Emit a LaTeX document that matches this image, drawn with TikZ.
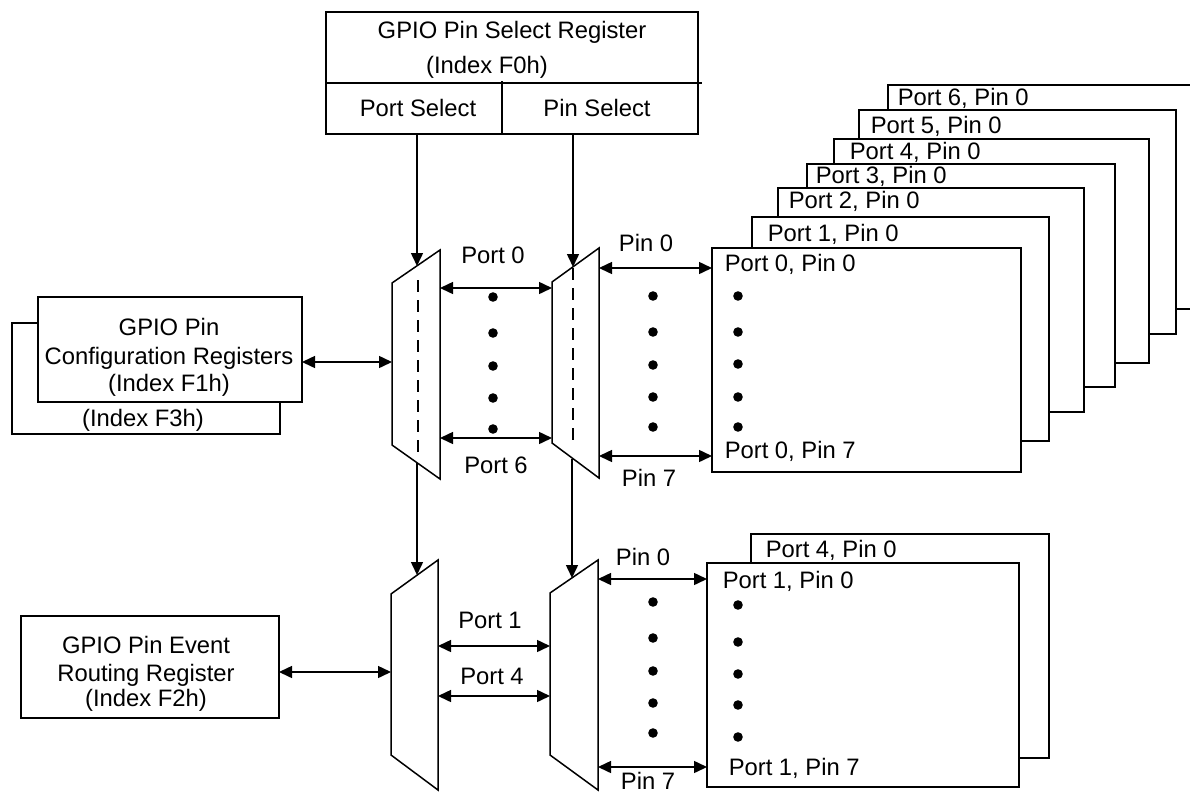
\documentclass[tikz,border=0pt]{standalone}
\usepackage{fontspec}
\setmainfont{Liberation Sans}
\usetikzlibrary{arrows.meta}
\begin{document}
\begin{tikzpicture}[x=0.5pt,y=-0.5pt, line width=0.75pt,
  box/.style={draw, fill=white, inner sep=0pt, outer sep=0pt, anchor=north west},
  lbl/.style={inner sep=0pt, font=\fontsize{11.9}{13.8}\selectfont, text height=8.6pt, text depth=0pt},
  llbl/.style={lbl, anchor=west},
  conn/.style={-{Triangle[length=6.5pt,width=6pt]}},
  bus/.style={{Triangle[length=6.5pt,width=6pt]}-{Triangle[length=6.5pt,width=6pt]}},
  dotm/.style={circle, fill, inner sep=0pt, minimum size=4.8pt},
  mux/.style={draw, fill=white, line join=miter},
  sel/.style={dash pattern=on 6pt off 4pt}]
\useasboundingbox (0,0) rectangle (1190,793);
\clip (0,0) rectangle (1190,793);

% ---- top register
\node[box, minimum width=186pt, minimum height=61pt] (psr) at (326,12) {};
\coordinate (divL) at (326,83);
\coordinate (divR) at (702,83);
\coordinate (divT) at (502,81);
\coordinate (divB) at (502,134);
\draw (divL) -- (divR);
\draw (divT) -- (divB);
\node[lbl] (psr1) at (512,30) {GPIO Pin Select Register};
\node[lbl] (psr2) at (487,65) {(Index F0h)};
\node[lbl] (portsel) at (418,108) {Port Select};
\node[lbl] (pinsel) at (597,108) {Pin Select};

% ---- configuration registers
\node[box, minimum width=134pt, minimum height=55.5pt] (cfgb) at (12,323) {};
\node[box, minimum width=132pt, minimum height=52.5pt] (cfg) at (38,297) {};
\node[lbl] (cfg1) at (169,327) {GPIO Pin};
\node[lbl] (cfg2) at (169,356) {Configuration Registers};
\node[lbl] (cfg3) at (169,383) {(Index F1h)};
\node[lbl] (cfg4) at (143,418) {(Index F3h)};

% ---- event routing register
\node[box, minimum width=129pt, minimum height=51pt] (evt) at (21,616) {};
\node[lbl] (evt1) at (146,645) {GPIO Pin Event};
\node[lbl] (evt2) at (146,673) {Routing Register};
\node[lbl] (evt3) at (146,698) {(Index F2h)};

% ---- muxes
\coordinate (m1a) at (392,283); \coordinate (m1b) at (440,250);
\coordinate (m1c) at (440,479); \coordinate (m1d) at (392,445);
\draw[mux] (m1a) -- (m1b) -- (m1c) -- (m1d) -- cycle;
\coordinate (m1t) at (418,280); \coordinate (m1u) at (418,457);
\draw[sel] (m1t) -- (m1u);

\coordinate (m2a) at (552,282); \coordinate (m2b) at (599,248);
\coordinate (m2c) at (599,478); \coordinate (m2d) at (552,443);
\draw[mux] (m2a) -- (m2b) -- (m2c) -- (m2d) -- cycle;
\coordinate (m2t) at (573,268); \coordinate (m2u) at (573,443);
\draw[sel] (m2t) -- (m2u);

\coordinate (m3a) at (391,594); \coordinate (m3b) at (438,560);
\coordinate (m3c) at (438,790); \coordinate (m3d) at (391,755);
\draw[mux] (m3a) -- (m3b) -- (m3c) -- (m3d) -- cycle;

\coordinate (m4a) at (550,593); \coordinate (m4b) at (598,560);
\coordinate (m4c) at (598,790); \coordinate (m4d) at (550,755);
\draw[mux] (m4a) -- (m4b) -- (m4c) -- (m4d) -- cycle;

% ---- stacked pin boxes (top)
\node[box, minimum width=161pt, minimum height=112pt] (p6) at (888,85) {};
\node[box, minimum width=158.5pt, minimum height=112pt] (p5) at (859,110) {};
\node[box, minimum width=157.5pt, minimum height=112pt] (p4) at (834,139) {};
\node[box, minimum width=154pt, minimum height=111.5pt] (p3) at (807,164) {};
\node[box, minimum width=153pt, minimum height=112pt] (p2) at (778,188) {};
\node[box, minimum width=148.5pt, minimum height=112pt] (p1) at (752,217) {};
\node[box, minimum width=154.5pt, minimum height=112pt] (p0) at (712,248) {};
\node[llbl] (p6l) at (897,97) {Port 6, Pin 0};
\node[llbl] (p5l) at (870,125) {Port 5, Pin 0};
\node[llbl] (p4l) at (849,151) {Port 4, Pin 0};
\node[llbl] (p3l) at (815,175) {Port 3, Pin 0};
\node[llbl] (p2l) at (788,200) {Port 2, Pin 0};
\node[llbl] (p1l) at (767,233) {Port 1, Pin 0};
\node[llbl] (p0l) at (724,263) {Port 0, Pin 0};
\node[llbl] (p0m) at (724,450) {Port 0, Pin 7};
\foreach \y [count=\i] in {296,332,364,397,427} \node[dotm] (pd\i) at (738,\y) {};

% ---- stacked pin boxes (bottom)
\node[box, minimum width=149pt, minimum height=112pt] (q4) at (751,534) {};
\node[box, minimum width=156pt, minimum height=112pt] (q1) at (707,563) {};
\node[llbl] (q4l) at (765,549) {Port 4, Pin 0};
\node[llbl] (q1l) at (722,580) {Port 1, Pin 0};
\node[llbl] (q1m) at (728,767) {Port 1, Pin 7};
\foreach \y [count=\i] in {605,642,674,705,737} \node[dotm] (qd\i) at (738,\y) {};

% ---- select arrows
\coordinate (ps0) at (417,134); \coordinate (ps1) at (417,266);
\coordinate (pn0) at (573,134); \coordinate (pn1) at (573,267);
\draw[conn] (ps0) -- (ps1);
\draw[conn] (pn0) -- (pn1);
\coordinate (d1a) at (417,463); \coordinate (d1b) at (417,575);
\coordinate (d2a) at (572,459); \coordinate (d2b) at (572,578);
\draw[conn] (d1a) -- (d1b);
\draw[conn] (d2a) -- (d2b);

% ---- buses (top)
\draw[bus] (cfg.east |- 0,362) -- (392,362);
\draw[bus] (440,288) -- (552,288);
\draw[bus] (440,438) -- (552,438);
\draw[bus] (599,268) -- (p0.west |- 0,268);
\draw[bus] (599,456) -- (p0.west |- 0,456);
\node[lbl] (lp0) at (493,255) {Port 0};
\node[lbl] (lp6) at (496,465) {Port 6};
\node[lbl] (lpin0) at (646,243) {Pin 0};
\node[lbl] (lpin7) at (649,478) {Pin 7};
\foreach \y [count=\i] in {297,333,366,398,429} \node[dotm] (ad\i) at (493,\y) {};
\foreach \y [count=\i] in {296,332,365,397,427} \node[dotm] (bd\i) at (653,\y) {};

% ---- buses (bottom)
\draw[bus] (evt.east |- 0,672) -- (391,672);
\draw[bus] (438,646) -- (550,646);
\draw[bus] (438,696) -- (550,696);
\draw[bus] (598,579) -- (q1.west |- 0,579);
\draw[bus] (598,767) -- (q1.west |- 0,767);
\node[lbl] (lq1) at (490,620) {Port 1};
\node[lbl] (lq4) at (492,676) {Port 4};
\node[lbl] (lqp0) at (643,557) {Pin 0};
\node[lbl] (lqp7) at (648,781) {Pin 7};
\foreach \y [count=\i] in {602,638,671,703,733} \node[dotm] (cd\i) at (653,\y) {};
\end{tikzpicture}
\end{document}
